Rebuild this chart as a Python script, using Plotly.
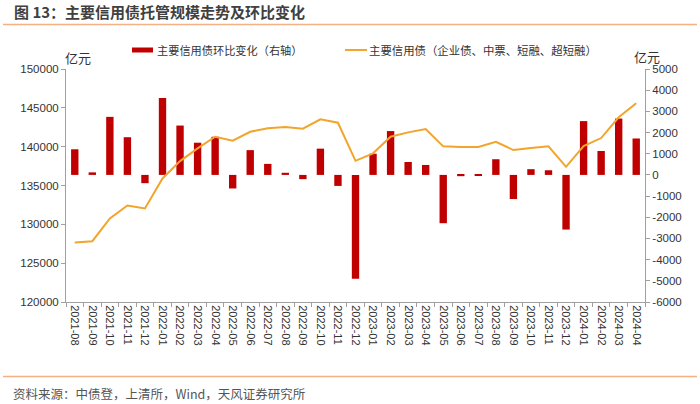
import plotly.graph_objects as go

months = ["2021-08","2021-09","2021-10","2021-11","2021-12",
          "2022-01","2022-02","2022-03","2022-04","2022-05","2022-06",
          "2022-07","2022-08","2022-09","2022-10","2022-11","2022-12",
          "2023-01","2023-02","2023-03","2023-04","2023-05","2023-06",
          "2023-07","2023-08","2023-09","2023-10","2023-11","2023-12",
          "2024-01","2024-02","2024-03","2024-04"]

balance = [127670, 127830, 130760, 132430, 132050,
           135910, 138140, 139780, 141280, 140760, 141920,
           142360, 142530, 142310, 143520, 143080, 138180,
           139140, 141280, 141840, 142270, 140040, 139950,
           139950, 140630, 139560, 139820, 140040, 137410,
           140080, 141110, 143780, 145580]

mom_change = [1210, 120, 2740, 1780, -390,
              3630, 2330, 1520, 1800, -640, 1170,
              520, 100, -200, 1240, -520, -4900,
              1000, 2070, 610, 470, -2280, -60,
              -30, 740, -1140, 270, 220, -2580,
              2540, 1130, 2660, 1720]

left_ticks = [120000, 125000, 130000, 135000, 140000, 145000, 150000]
right_ticks = [-6000, -5000, -4000, -3000, -2000, -1000, 0, 1000, 2000, 3000, 4000, 5000]

title_text = "图 13：主要信用债托管规模走势及环比变化"
bar_name = "主要信用债环比变化（右轴）"
line_name = "主要信用债（企业债、中票、短融、超短融）"
source_text = "资料来源：中债登，上清所，Wind，天风证券研究所"
unit_text = "亿元"

CJK = "Noto Sans CJK SC"
NUM = "Liberation Sans, Arial"

BAR_COL = "#C00000"
LINE_COL = "#F2A42B"
SEP_COL = "#F4B183"
axis_col = "#A0A0A0"

# plot area in pixels
L, R, T, B = 66, 645, 69, 302
PW, PH = R - L, B - T

def px(x):
    return (x - L) / PW

def py(y):
    return 1 - (y - T) / PH

fig = go.Figure()
fig.add_trace(go.Bar(
    x=months, y=mom_change, name=bar_name, yaxis="y",
    marker=dict(color=BAR_COL, line=dict(width=0)), width=0.42,
))
fig.add_trace(go.Scatter(
    x=months, y=balance, name=line_name, yaxis="y2", mode="lines",
    line=dict(color=LINE_COL, width=2),
))

fig.update_layout(
    width=700, height=404,
    margin=dict(l=L, r=700 - R, t=T, b=404 - B, autoexpand=False),
    paper_bgcolor="white", plot_bgcolor="white",
    showlegend=False,
    xaxis=dict(type="category", tickangle=90, showline=True, linecolor=axis_col,
               ticks="outside", ticklen=4, tickcolor=axis_col, tickson="boundaries",
               tickfont=dict(family=NUM, size=11, color="#333"), showgrid=False,
               zeroline=False, automargin=False),
    yaxis=dict(side="right", range=[-6000, 5000], tickvals=right_ticks,
               ticktext=[str(v) for v in right_ticks],
               showline=True, linecolor=axis_col, ticks="outside", ticklen=4,
               tickcolor=axis_col, tickfont=dict(family=NUM, size=11.5, color="#333"),
               showgrid=False, zeroline=False, automargin=False),
    yaxis2=dict(side="left", overlaying="y", range=[120000, 150000], tickvals=left_ticks,
                ticktext=[str(v) for v in left_ticks],
                showline=True, linecolor=axis_col, ticks="outside", ticklen=4,
                tickcolor=axis_col, tickfont=dict(family=NUM, size=11.5, color="#333"),
                showgrid=False, zeroline=False, automargin=False),
)

# title & separators
fig.add_annotation(text="<b>" + title_text + "</b>", xref="paper", yref="paper",
                   x=px(12), y=py(12), xanchor="left", yanchor="middle",
                   showarrow=False, font=dict(family=CJK, size=15, color="#404040"))
fig.add_shape(type="line", xref="paper", yref="paper",
              x0=px(3), x1=px(697), y0=py(24.5), y1=py(24.5),
              line=dict(color=SEP_COL, width=1.5))
fig.add_shape(type="line", xref="paper", yref="paper",
              x0=px(3), x1=px(697), y0=py(376.5), y1=py(376.5),
              line=dict(color=SEP_COL, width=1.5))
fig.add_annotation(text=source_text, xref="paper", yref="paper",
                   x=px(11), y=py(393), xanchor="left", yanchor="middle",
                   showarrow=False, font=dict(family=CJK, size=12.5, color="#555"))

# legend (manual)
fig.add_shape(type="rect", xref="paper", yref="paper",
              x0=px(132), x1=px(153), y0=py(47.5), y1=py(52.5),
              fillcolor=BAR_COL, line=dict(width=0))
fig.add_annotation(text=bar_name, xref="paper", yref="paper",
                   x=px(155), y=py(50), xanchor="left", yanchor="middle",
                   showarrow=False, font=dict(family=CJK, size=11.2, color="#333"))
fig.add_shape(type="line", xref="paper", yref="paper",
              x0=px(345), x1=px(367), y0=py(50), y1=py(50),
              line=dict(color=LINE_COL, width=2))
fig.add_annotation(text=line_name, xref="paper", yref="paper",
                   x=px(367), y=py(50), xanchor="left", yanchor="middle",
                   showarrow=False, font=dict(family=CJK, size=11.4, color="#333"))

# units
fig.add_annotation(text=unit_text, xref="paper", yref="paper",
                   x=px(63), y=py(57), xanchor="left", yanchor="middle",
                   showarrow=False, font=dict(family=CJK, size=13, color="#333"))
fig.add_annotation(text=unit_text, xref="paper", yref="paper",
                   x=px(632), y=py(56), xanchor="left", yanchor="middle",
                   showarrow=False, font=dict(family=CJK, size=13, color="#333"))

fig.write_html("out.html", config={"displayModeBar": False},
               post_script="document.body.style.margin='0';document.body.style.overflow='hidden';")
